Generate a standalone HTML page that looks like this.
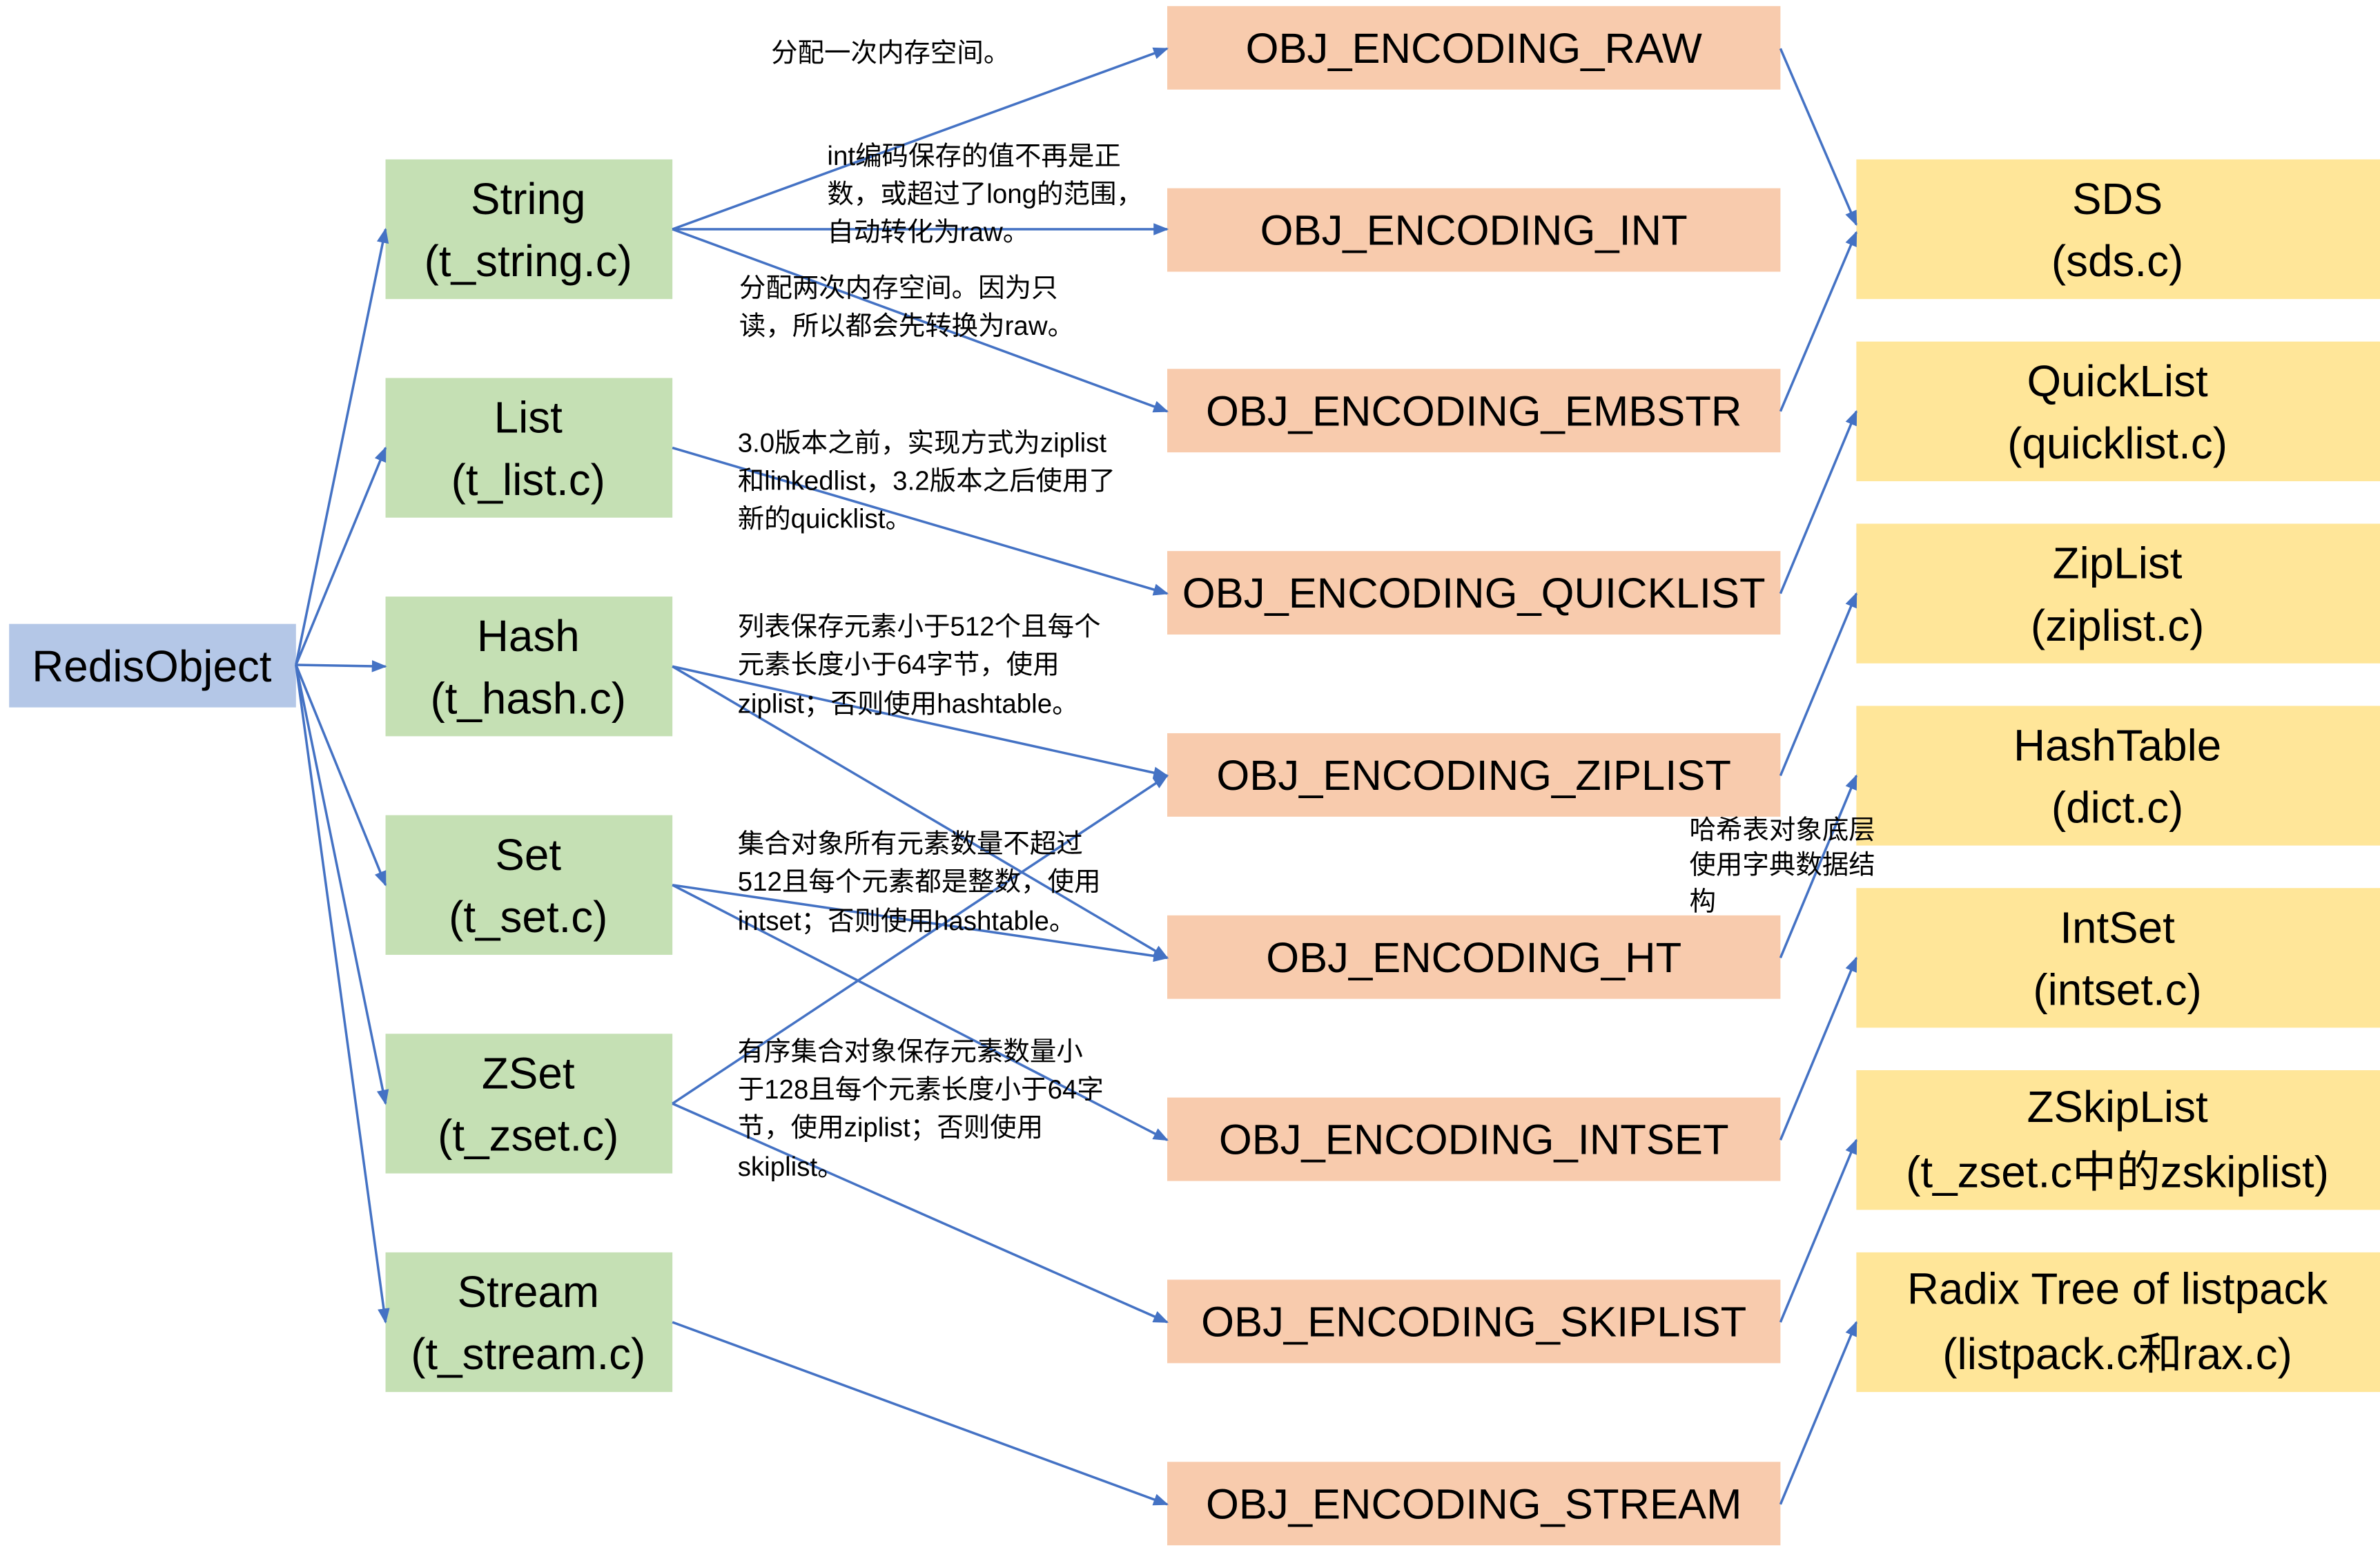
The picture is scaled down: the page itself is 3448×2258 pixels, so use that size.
<!DOCTYPE html>
<html><head><meta charset="utf-8"><style>
html,body{margin:0;padding:0;background:#fff;}
svg{display:block;}
.b{font-family:"Liberation Sans","Noto Sans CJK SC",sans-serif;font-size:29px;fill:#000;}
.o{font-family:"Liberation Sans","Noto Sans CJK SC",sans-serif;font-size:28px;fill:#000;}
.n{font-family:"Liberation Sans","Noto Sans CJK SC",sans-serif;font-size:17.5px;fill:#000;}
</style></head><body>
<svg width="3448" height="2258" viewBox="0 0 1568 1027" preserveAspectRatio="none" xmlns="http://www.w3.org/2000/svg">
<defs><marker id="a" markerWidth="10" markerHeight="8" refX="9" refY="4" orient="auto" markerUnits="userSpaceOnUse"><path d="M0,0 L10,4 L0,8 z" fill="#4472C4"/></marker></defs>
<rect x="0" y="0" width="1568" height="1027" fill="#fff"/>
<rect x="6" y="411" width="189" height="55" fill="#B4C7E7"/>
<text class="b" x="100" y="439" text-anchor="middle" dominant-baseline="central">RedisObject</text>
<g fill="#C5E0B4">
<rect x="254" y="105" width="189" height="92"/><rect x="254" y="249" width="189" height="92"/><rect x="254" y="393" width="189" height="92"/>
<rect x="254" y="537" width="189" height="92"/><rect x="254" y="681" width="189" height="92"/><rect x="254" y="825" width="189" height="92"/>
</g>
<g class="b" text-anchor="middle" dominant-baseline="central">
<text x="348" y="131">String</text><text x="348" y="172">(t_string.c)</text>
<text x="348" y="275">List</text><text x="348" y="316">(t_list.c)</text>
<text x="348" y="419">Hash</text><text x="348" y="460">(t_hash.c)</text>
<text x="348" y="563">Set</text><text x="348" y="604">(t_set.c)</text>
<text x="348" y="707">ZSet</text><text x="348" y="748">(t_zset.c)</text>
<text x="348" y="851">Stream</text><text x="348" y="892">(t_stream.c)</text>
</g>
<g fill="#F8CBAD">
<rect x="769" y="4" width="404" height="55"/><rect x="769" y="124" width="404" height="55"/><rect x="769" y="243" width="404" height="55"/>
<rect x="769" y="363" width="404" height="55"/><rect x="769" y="483" width="404" height="55"/><rect x="769" y="603" width="404" height="55"/>
<rect x="769" y="723" width="404" height="55"/><rect x="769" y="843" width="404" height="55"/><rect x="769" y="963" width="404" height="55"/>
</g>
<g class="o" text-anchor="middle" dominant-baseline="central">
<text x="971" y="32">OBJ_ENCODING_RAW</text>
<text x="971" y="152">OBJ_ENCODING_INT</text>
<text x="971" y="271">OBJ_ENCODING_EMBSTR</text>
<text x="971" y="391">OBJ_ENCODING_QUICKLIST</text>
<text x="971" y="511">OBJ_ENCODING_ZIPLIST</text>
<text x="971" y="631">OBJ_ENCODING_HT</text>
<text x="971" y="751">OBJ_ENCODING_INTSET</text>
<text x="971" y="871">OBJ_ENCODING_SKIPLIST</text>
<text x="971" y="991">OBJ_ENCODING_STREAM</text>
</g>
<g fill="#FFE699">
<rect x="1223" y="105" width="345" height="92"/><rect x="1223" y="225" width="345" height="92"/><rect x="1223" y="345" width="345" height="92"/>
<rect x="1223" y="465" width="345" height="92"/><rect x="1223" y="585" width="345" height="92"/><rect x="1223" y="705" width="345" height="92"/>
<rect x="1223" y="825" width="345" height="92"/>
</g>
<g class="b" text-anchor="middle" dominant-baseline="central">
<text x="1395" y="131">SDS</text><text x="1395" y="172">(sds.c)</text>
<text x="1395" y="251">QuickList</text><text x="1395" y="292">(quicklist.c)</text>
<text x="1395" y="371">ZipList</text><text x="1395" y="412">(ziplist.c)</text>
<text x="1395" y="491">HashTable</text><text x="1395" y="532">(dict.c)</text>
<text x="1395" y="611">IntSet</text><text x="1395" y="652">(intset.c)</text>
<text x="1395" y="729">ZSkipList</text><text x="1395" y="772">(t_zset.c中的zskiplist)</text>
<text x="1395" y="849">Radix Tree of listpack</text><text x="1395" y="892">(listpack.c和rax.c)</text>
</g>
<g stroke="#4472C4" stroke-width="1.6" fill="none" marker-end="url(#a)">
<line x1="195" y1="438" x2="254" y2="151"/>
<line x1="195" y1="438" x2="254" y2="295"/>
<line x1="195" y1="438" x2="254" y2="439"/>
<line x1="195" y1="438" x2="254" y2="583"/>
<line x1="195" y1="438" x2="254" y2="727"/>
<line x1="195" y1="438" x2="254" y2="871"/>
<line x1="443" y1="151" x2="769" y2="32"/>
<line x1="443" y1="151" x2="769" y2="151"/>
<line x1="443" y1="151" x2="769" y2="271"/>
<line x1="443" y1="295" x2="769" y2="391"/>
<line x1="443" y1="439" x2="769" y2="511"/>
<line x1="443" y1="439" x2="769" y2="631"/>
<line x1="443" y1="583" x2="769" y2="631"/>
<line x1="443" y1="583" x2="769" y2="751"/>
<line x1="443" y1="727" x2="769" y2="511"/>
<line x1="443" y1="727" x2="769" y2="871"/>
<line x1="443" y1="871" x2="769" y2="991"/>
<line x1="1173" y1="32" x2="1223" y2="148"/>
<line x1="1173" y1="271" x2="1223" y2="153"/>
<line x1="1173" y1="391" x2="1223" y2="271"/>
<line x1="1173" y1="511" x2="1223" y2="391"/>
<line x1="1173" y1="631" x2="1223" y2="511"/>
<line x1="1173" y1="751" x2="1223" y2="631"/>
<line x1="1173" y1="871" x2="1223" y2="751"/>
<line x1="1173" y1="991" x2="1223" y2="871"/>
</g>
<g class="n" dominant-baseline="central">
<text x="508" y="35">分配一次内存空间。</text>
<text x="545" y="103">int编码保存的值不再是正</text>
<text x="545" y="128">数，或超过了long的范围，</text>
<text x="545" y="153">自动转化为raw。</text>
<text x="487" y="190">分配两次内存空间。因为只</text>
<text x="487" y="215">读，所以都会先转换为raw。</text>
<text x="486" y="292">3.0版本之前，实现方式为ziplist</text>
<text x="486" y="317">和linkedlist，3.2版本之后使用了</text>
<text x="486" y="342">新的quicklist。</text>
<text x="486" y="413">列表保存元素小于512个且每个</text>
<text x="486" y="438">元素长度小于64字节，使用</text>
<text x="486" y="464">ziplist；否则使用hashtable。</text>
<text x="486" y="556">集合对象所有元素数量不超过</text>
<text x="486" y="581">512且每个元素都是整数，使用</text>
<text x="486" y="607">intset；否则使用hashtable。</text>
<text x="486" y="693">有序集合对象保存元素数量小</text>
<text x="486" y="718">于128且每个元素长度小于64字</text>
<text x="486" y="743">节，使用ziplist；否则使用</text>
<text x="486" y="769">skiplist。</text>
<text x="1113" y="547">哈希表对象底层</text>
<text x="1113" y="570">使用字典数据结</text>
<text x="1113" y="594">构</text>
</g>
</svg>
</body></html>
